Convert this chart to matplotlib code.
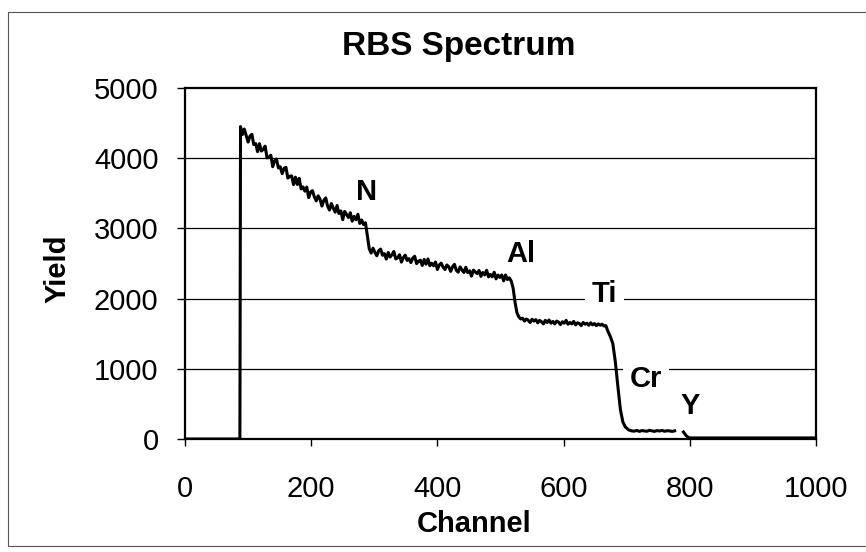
import matplotlib
matplotlib.use("Agg")
import matplotlib.pyplot as plt
import numpy as np
from matplotlib.patches import Rectangle

plt.rcParams['font.family'] = ['Liberation Sans', 'DejaVu Sans']

# ---- data ----
channel_a = [0, 87, 88, 91, 94, 97, 100, 103, 106, 109, 112, 115, 118, 121, 124, 127, 130,
             133, 136, 139, 142, 145, 148, 151, 154, 157, 160, 163, 166, 169, 172, 175,
             178, 181, 184, 187, 190, 193, 196, 199, 202, 205, 208, 211, 214, 217, 220,
             223, 226, 229, 232, 235, 238, 241, 244, 247, 250, 253, 256, 259, 262, 265,
             268, 271, 274, 277, 280, 283, 286, 289]
yield_a = [0, 0, 4450, 4338, 4415, 4323, 4230, 4315, 4339, 4194, 4208, 4093, 4207, 4102,
           4126, 4171, 4005, 4010, 4044, 3879, 3963, 3988, 3862, 3877, 3781, 3856, 3870,
           3716, 3742, 3748, 3624, 3730, 3626, 3713, 3562, 3591, 3530, 3589, 3438, 3517,
           3538, 3450, 3392, 3464, 3416, 3318, 3400, 3434, 3317, 3261, 3354, 3288, 3231,
           3326, 3212, 3249, 3125, 3242, 3198, 3155, 3223, 3103, 3172, 3122, 3201, 3071,
           3120, 3055, 3080, 2900]

channel_b = [292, 295, 298, 301, 304, 307, 310, 313, 316, 319, 322, 325, 328, 331, 334, 337,
             340, 343, 346, 349, 352, 355, 358, 361, 364, 367, 370, 373, 376, 379, 382, 385,
             388, 391, 394, 397, 400, 403, 406, 409, 412, 415, 418, 421, 424, 427, 430, 433,
             436, 439, 442, 445, 448, 451, 454, 457, 460, 463, 466, 469, 472, 475, 478, 481,
             484, 487, 490, 493, 496, 499, 502, 505, 508, 511, 514, 517, 520, 523, 526, 529,
             532]
yield_b = [2710, 2649, 2718, 2658, 2610, 2683, 2705, 2618, 2640, 2563, 2657, 2591, 2626,
           2671, 2565, 2580, 2625, 2520, 2584, 2619, 2544, 2569, 2513, 2578, 2603, 2498,
           2532, 2547, 2472, 2557, 2491, 2565, 2469, 2503, 2467, 2521, 2415, 2480, 2505,
           2449, 2414, 2479, 2454, 2388, 2453, 2488, 2402, 2377, 2452, 2407, 2372, 2446,
           2371, 2396, 2320, 2405, 2380, 2356, 2401, 2317, 2372, 2338, 2403, 2309, 2344,
           2310, 2375, 2281, 2336, 2302, 2337, 2253, 2336, 2271, 2295, 2250, 2150, 1950,
           1800, 1740, 1710]

channel_c = [535, 538, 541, 544, 547, 550, 553, 556, 559, 562, 565, 568, 571, 574, 577, 580,
             583, 586, 589, 592, 595, 598, 601, 604, 607, 610, 613, 616, 619, 622, 625, 628,
             631, 634, 637, 640, 643, 646, 649, 652, 655, 658, 661, 664, 667, 670, 674, 678,
             682, 686, 690, 694, 698, 703, 708]
yield_c = [1720, 1680, 1710, 1690, 1660, 1705, 1680, 1700, 1655, 1690, 1670, 1640, 1690,
           1660, 1695, 1650, 1675, 1640, 1680, 1665, 1630, 1670, 1650, 1690, 1635, 1660,
           1640, 1675, 1625, 1655, 1645, 1615, 1660, 1635, 1650, 1620, 1655, 1625, 1645,
           1615, 1640, 1620, 1635, 1610, 1615, 1540, 1460, 1360, 1100, 750, 420, 240, 170,
           130, 115]

channel_d = [712, 716, 720, 724, 728, 732, 736, 740, 744, 748, 752, 756, 760, 764, 768, 772,
             776, 783, 790, 794, 798, 802, 1000]
yield_d = [112, 122, 108, 120, 115, 110, 124, 116, 108, 120, 114, 122, 110, 118, 115, 108,
           116, np.nan, 100, 50, 20, 15, 15]

x_ticks = [0, 200, 400, 600, 800, 1000]
y_ticks = [0, 1000, 2000, 3000, 4000, 5000]

peak_labels = ["N", "Al", "Ti", "Cr", "Y"]
peak_x = [288, 532, 665, 731, 801]
peak_y = [3520, 2630, 2060, 857, 471]

channel = channel_a + channel_b + channel_c + channel_d
yld = yield_a + yield_b + yield_c + yield_d

# ---- figure ----
W, H = 866, 552
L, R, T, B = 185, 816, 88, 439
fig = plt.figure(figsize=(W/100, H/100), dpi=100)
ax = fig.add_axes([L/W, 1-B/H, (R-L)/W, (B-T)/H])

ax.plot(channel, yld, color='black', lw=2.2, zorder=3, solid_joinstyle='round')

ax.set_xlim(0, 1000)
ax.set_ylim(0, 5000)
ax.set_xticks(x_ticks)
ax.set_yticks(y_ticks)
ax.tick_params(axis='x', direction='out', length=5, width=1, pad=21, labelsize=21)
ax.tick_params(axis='y', direction='out', length=6, width=1, pad=13, labelsize=21)
for s in ax.spines.values():
    s.set_linewidth(1.6)
    s.set_color('black')

for v in y_ticks[1:-1]:
    ax.axhline(v, color='black', lw=0.9, zorder=1)

for lab, px, py in zip(peak_labels, peak_x, peak_y):
    ax.text(px, py, lab, fontsize=21, fontweight='bold', ha='center', va='center', zorder=2,
            bbox=dict(facecolor='white', edgecolor='none', pad=5))

ax.set_xlabel("Channel", fontsize=21, fontweight='bold')
ax.xaxis.label.set_va('baseline')
ax.xaxis.set_label_coords((474-L)/(R-L), (B-532)/(B-T))
ax.set_ylabel("Yield", fontsize=21, fontweight='bold')
ax.yaxis.label.set_va('center')
ax.yaxis.set_label_coords((57.5-L)/(R-L), (B-268.5)/(B-T))

fig.text(459/W, 1-55/H, "RBS Spectrum", fontsize=24, fontweight='bold',
         ha='center', va='baseline')

# outer chart-area border
fig.patches.append(Rectangle((8/W, 1-546/H), (W-8)/W, (546-12)/H,
                             transform=fig.transFigure, fill=False, edgecolor='#555555', lw=0.8))

fig.savefig("out.png", dpi=100)
